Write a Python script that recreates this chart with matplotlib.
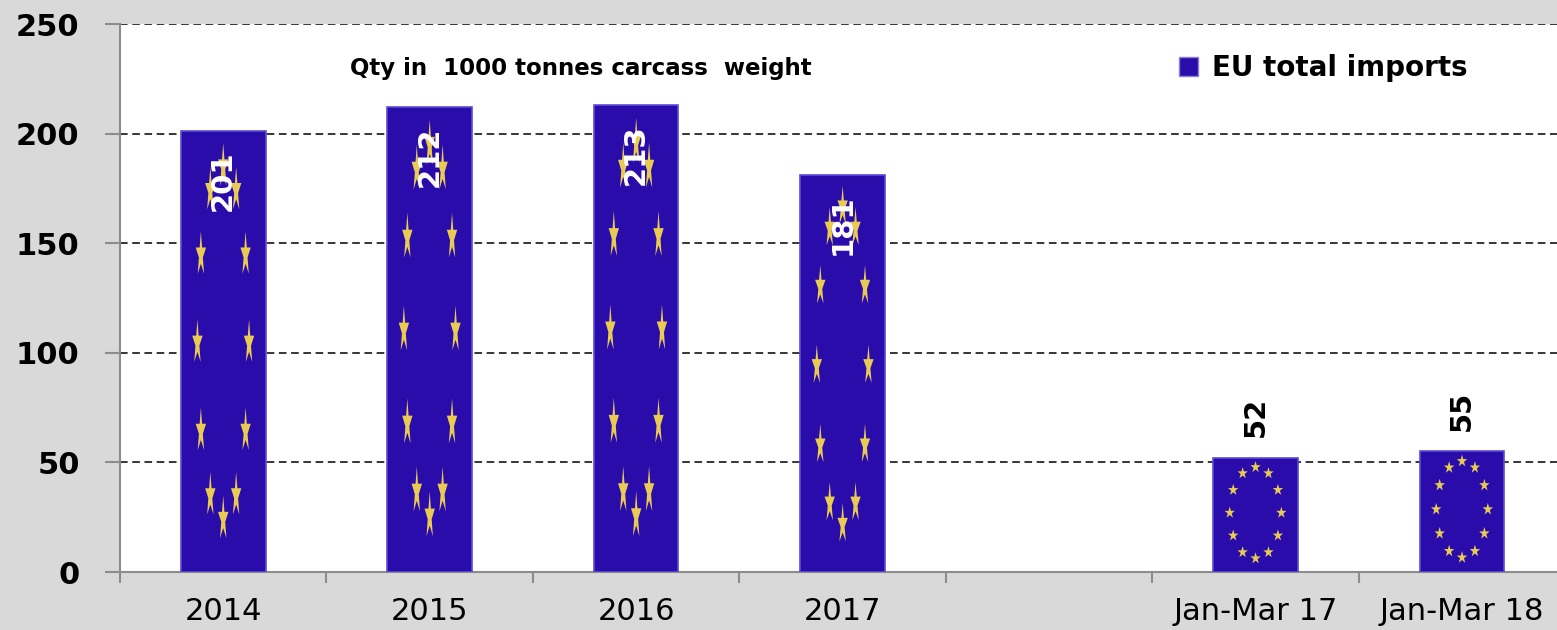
import matplotlib.pyplot as plt
import numpy as np
from matplotlib.markers import MarkerStyle
from matplotlib.patches import Patch
from matplotlib.transforms import Affine2D

# ------ data ------
categories = ['2014', '2015', '2016', '2017', '', 'Jan-Mar 17', 'Jan-Mar 18']
values = [201, 212, 213, 181, np.nan, 52, 55]
value_labels = ['201', '212', '213', '181', '', '52', '55']
legend_label = 'EU total imports'
note = 'Qty in  1000 tonnes carcass  weight'

# ------ style ------
bar_blue = '#2a0cab'
star_yellow = '#ffe14a'
bg_grey = '#d9d9d9'
plt.rcParams['font.family'] = ['DejaVu Sans']

fig = plt.figure(figsize=(15.57, 6.3), dpi=100, facecolor=bg_grey)
ax = fig.add_axes([120 / 1557, 1 - 572 / 630, 1 - 120 / 1557, (572 - 24) / 630])
ax.set_facecolor('white')

x = np.arange(len(categories))
vals = np.array(values, dtype=float)
width = 0.41

ax.bar(x, vals, width=width, color=bar_blue, edgecolor='#5b4bd6', linewidth=1.2, zorder=3)

# -- flag stars inside the bars (ellipse of 12, stretched with the bar) --
ang = np.linspace(0, 2 * np.pi, 12, endpoint=False)
vmin = np.nanmin(vals)
for xi, v in zip(x, vals):
    if np.isnan(v):
        continue
    stretch = v / vmin
    mk = MarkerStyle('*', transform=Affine2D().scale(0.85, 0.95 * stretch))
    sx = xi + 0.125 * np.sin(ang)
    sy = 0.52 * v + 0.4 * v * np.cos(ang)
    ax.scatter(sx, sy, marker=mk, s=85, color=star_yellow, edgecolors='none',
               alpha=0.9, zorder=4)

# -- value labels --
for xi, v, lab in zip(x, vals, value_labels):
    if np.isnan(v):
        continue
    if v > 100:
        ax.annotate(lab, (xi, v), xytext=(0, -14), textcoords='offset points',
                    rotation=90, ha='center', va='top', color='white',
                    fontsize=21, fontweight='bold', zorder=5)
    else:
        ax.annotate(lab, (xi, v), xytext=(0, 15), textcoords='offset points',
                    rotation=90, ha='center', va='bottom', color='black',
                    fontsize=21, fontweight='bold', zorder=5)

# ------ axes ------
ax.set_ylim(0, 250)
ax.set_xlim(-0.5, 6.46)
ax.set_yticks(np.arange(0, 251, 50))
ax.set_yticklabels([str(t) for t in range(0, 251, 50)], fontsize=22, fontweight='bold')
ax.yaxis.grid(True, linestyle=(0, (5, 3)), color='black', linewidth=1.1, zorder=0)
ax.set_axisbelow(True)

ax.set_xticks(x)
ax.set_xticklabels(categories, fontsize=22)
ax.set_xticks(np.arange(-0.5, 6.5, 1.0), minor=True)
ax.tick_params(axis='x', which='major', length=0, pad=18)
ax.tick_params(axis='x', which='minor', length=8, color='#8c8c8c', width=1.5)
ax.tick_params(axis='y', length=11, color='#8c8c8c', width=1.5, pad=18)

for side in ['top', 'right']:
    ax.spines[side].set_visible(False)
for side in ['left', 'bottom']:
    ax.spines[side].set_color('#8c8c8c')
    ax.spines[side].set_linewidth(1.5)

# -- title note and legend --
fig.text(581 / 1557, 1 - 68 / 630, note, ha='center', va='center',
         fontsize=16.5, fontweight='bold')
handle = Patch(facecolor=bar_blue, edgecolor='#8a7fe0', label=legend_label)
fig.legend(handles=[handle], loc='center left',
           bbox_to_anchor=(1179 / 1557, 1 - 68 / 630), frameon=False,
           prop={'size': 20, 'weight': 'bold'}, handlelength=0.7,
           handleheight=0.7, handletextpad=0.5, borderpad=0, borderaxespad=0)

fig.savefig('out.png', dpi=100, facecolor=bg_grey)
